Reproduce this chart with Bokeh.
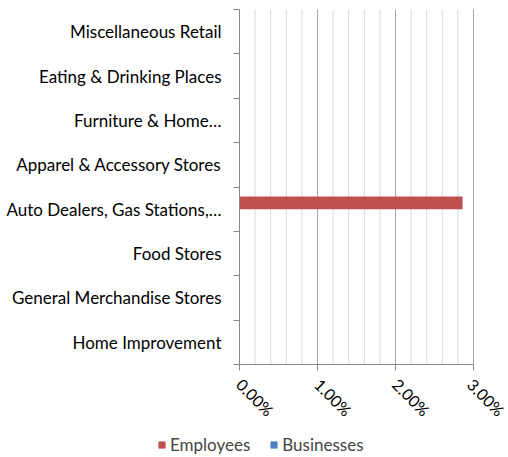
import math
from bokeh.plotting import figure
from bokeh.models import Range1d, FixedTicker, NumeralTickFormatter, Legend, LegendItem, ColumnDataSource
from bokeh.embed import file_html
from bokeh.resources import INLINE

# Categories listed bottom to top (as in the source chart)
categories = [
    "Home Improvement",
    "General Merchandise Stores",
    "Food Stores",
    "Auto Dealers, Gas Stations,…",
    "Apparel & Accessory Stores",
    "Furniture & Home…",
    "Eating & Drinking Places",
    "Miscellaneous Retail",
]
employees = [0.0, 0.0, 0.0, 0.0286, 0.0, 0.0, 0.0, 0.0]
businesses = [0.0, 0.0, 0.0, 0.0, 0.0, 0.0, 0.0, 0.0]
x_ticks = [0.0, 0.01, 0.02, 0.03]
x_minor = [0.002, 0.004, 0.006, 0.008, 0.012, 0.014, 0.016, 0.018,
           0.022, 0.024, 0.026, 0.028]

FONT = "Lato"
N = len(categories)
bar_h = 0.286
centers = [i + 0.5 for i in range(N)]

src = ColumnDataSource(dict(
    y_emp=[c + bar_h / 2 for c in centers],
    y_bus=[c - bar_h / 2 for c in centers],
    emp=employees,
    bus=businesses,
    zero=[0.0] * N,
))

# The plotting frame covers the whole canvas; axes are pinned at x=0 / y=0
W, H = 508, 457
px_x = 234 / 0.03          # pixels per unit on x
px_y = 355 / N             # pixels per category
x_range = Range1d(-239 / px_x, 0.03 + 35 / px_x)
y_range = Range1d(-93 / px_y, N + 9 / px_y)

p = figure(width=W, height=H, output_backend="svg", toolbar_location=None,
           x_range=x_range, y_range=y_range,
           min_border_left=0, min_border_right=0, min_border_top=0, min_border_bottom=0)
p.outline_line_color = None
p.xgrid.visible = False
p.ygrid.visible = False

# gridlines (minor light, major darker), spanning the category area only
p.segment(x0=x_minor, y0=[0] * len(x_minor), x1=x_minor, y1=[N] * len(x_minor),
          line_color="#D9D9D9", line_width=1)
p.segment(x0=x_ticks, y0=[0] * len(x_ticks), x1=x_ticks, y1=[N] * len(x_ticks),
          line_color="#A6A6A6", line_width=1)

r_emp = p.hbar(y="y_emp", left="zero", right="emp", height=bar_h, source=src,
               fill_color="#C0504D", line_color=None)
r_bus = p.hbar(y="y_bus", left="zero", right="bus", height=bar_h, source=src,
               fill_color="#4F81BD", line_color=None)

# X axis
xa = p.xaxis[0]
xa.fixed_location = 0
xa.bounds = (0, 0.03)
xa.ticker = FixedTicker(ticks=x_ticks, minor_ticks=[])
xa.formatter = NumeralTickFormatter(format="0.00%")
xa.major_label_orientation = -math.pi / 4
xa.axis_line_color = "#868686"
xa.major_tick_line_color = "#868686"
xa.major_tick_out = 6
xa.major_tick_in = 0
xa.minor_tick_line_color = None
xa.major_label_text_font = FONT
xa.major_label_text_font_size = "16px"
xa.major_label_text_color = "#000000"
xa.major_label_standoff = 11

# Y axis: labels at category centres, tick marks at category boundaries
ya = p.yaxis[0]
ya.fixed_location = 0
ya.bounds = (0, N)
ya.ticker = FixedTicker(ticks=centers, minor_ticks=list(range(N + 1)))
ya.major_label_overrides = {c: name for c, name in zip(centers, categories)}
ya.axis_line_color = "#868686"
ya.major_tick_line_color = None
ya.minor_tick_line_color = "#868686"
ya.minor_tick_out = 6
ya.minor_tick_in = 0
ya.major_label_text_font = FONT
ya.major_label_text_font_size = "17px"
ya.major_label_text_color = "#000000"
ya.major_label_standoff = 12

legend = Legend(items=[LegendItem(label="Employees", renderers=[r_emp]),
                       LegendItem(label="Businesses", renderers=[r_bus])],
                orientation="horizontal", location=(157, 2),
                label_text_font=FONT, label_text_font_size="17px",
                glyph_width=9, glyph_height=9, label_standoff=4, spacing=19,
                border_line_color=None, background_fill_alpha=0,
                padding=0, margin=0)
p.add_layout(legend, "center")

open("out.html", "w").write(file_html(p, INLINE))
